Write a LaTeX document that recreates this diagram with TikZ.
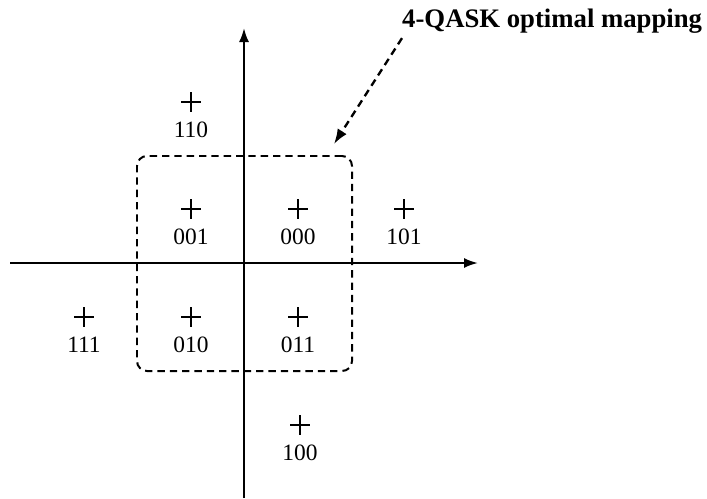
\documentclass[tikz,border=0pt]{standalone}
\usepackage{fontspec}
\setmainfont{Liberation Serif}
\usepackage{tikz}
\usetikzlibrary{positioning, arrows.meta}

\begin{document}
\begin{tikzpicture}[x=0.03cm, y=-0.03cm, label distance=0.28cm,
  sym/.style={minimum size=0.6cm, inner sep=0pt,
    path picture={\draw[line width=1.6pt]
      (path picture bounding box.north) -- (path picture bounding box.south)
      (path picture bounding box.west) -- (path picture bounding box.east);}},
  bits/.style={font=\fontsize{20}{20}\selectfont, inner sep=0pt},
  axis/.style={line width=1.8pt, -{Latex[length=0.42cm, width=0.3cm]}},
  dsh/.style={line width=1.7pt, dash pattern=on 0.22cm off 0.15cm}]

\useasboundingbox (0,0) rectangle (707,498);

% axes
\coordinate (xl) at (10,263);
\coordinate (xr) at (478,263);
\coordinate (yb) at (244,498);
\coordinate (yt) at (244,28);
\draw[axis] (xl) -- (xr);
\draw[axis] (yb) -- (yt);

% constellation points
\node[sym, label={[bits]below:110}] (p110) at (191,102) {};
\node[sym, label={[bits]below:001}] (p001) at (191,209) {};
\node[sym, label={[bits]below:000}] (p000) at (298,209) {};
\node[sym, label={[bits]below:101}] (p101) at (404,209) {};
\node[sym, label={[bits]below:111}] (p111) at (84,317) {};
\node[sym, label={[bits]below:010}] (p010) at (191,317) {};
\node[sym, label={[bits]below:011}] (p011) at (298,317) {};
\node[sym, label={[bits]below:100}] (p100) at (300,425) {};

% 4-QASK subset
\node[dsh, draw, rounded corners=0.3cm, minimum width=6.45cm,
  minimum height=6.45cm] (box) at (244.5,263.5) {};

\node[anchor=base west, inner sep=0pt,
  font=\fontsize{22.8}{22.8}\selectfont\bfseries] (title) at (402,27)
  {4-QASK optimal mapping};

\draw[dsh, line width=2pt, -{Latex[length=0.45cm, width=0.32cm]}]
  ([yshift=-0.15cm]title.south west) -- ([shift={(-19,-11)}]box.north east);

\end{tikzpicture}
\end{document}
